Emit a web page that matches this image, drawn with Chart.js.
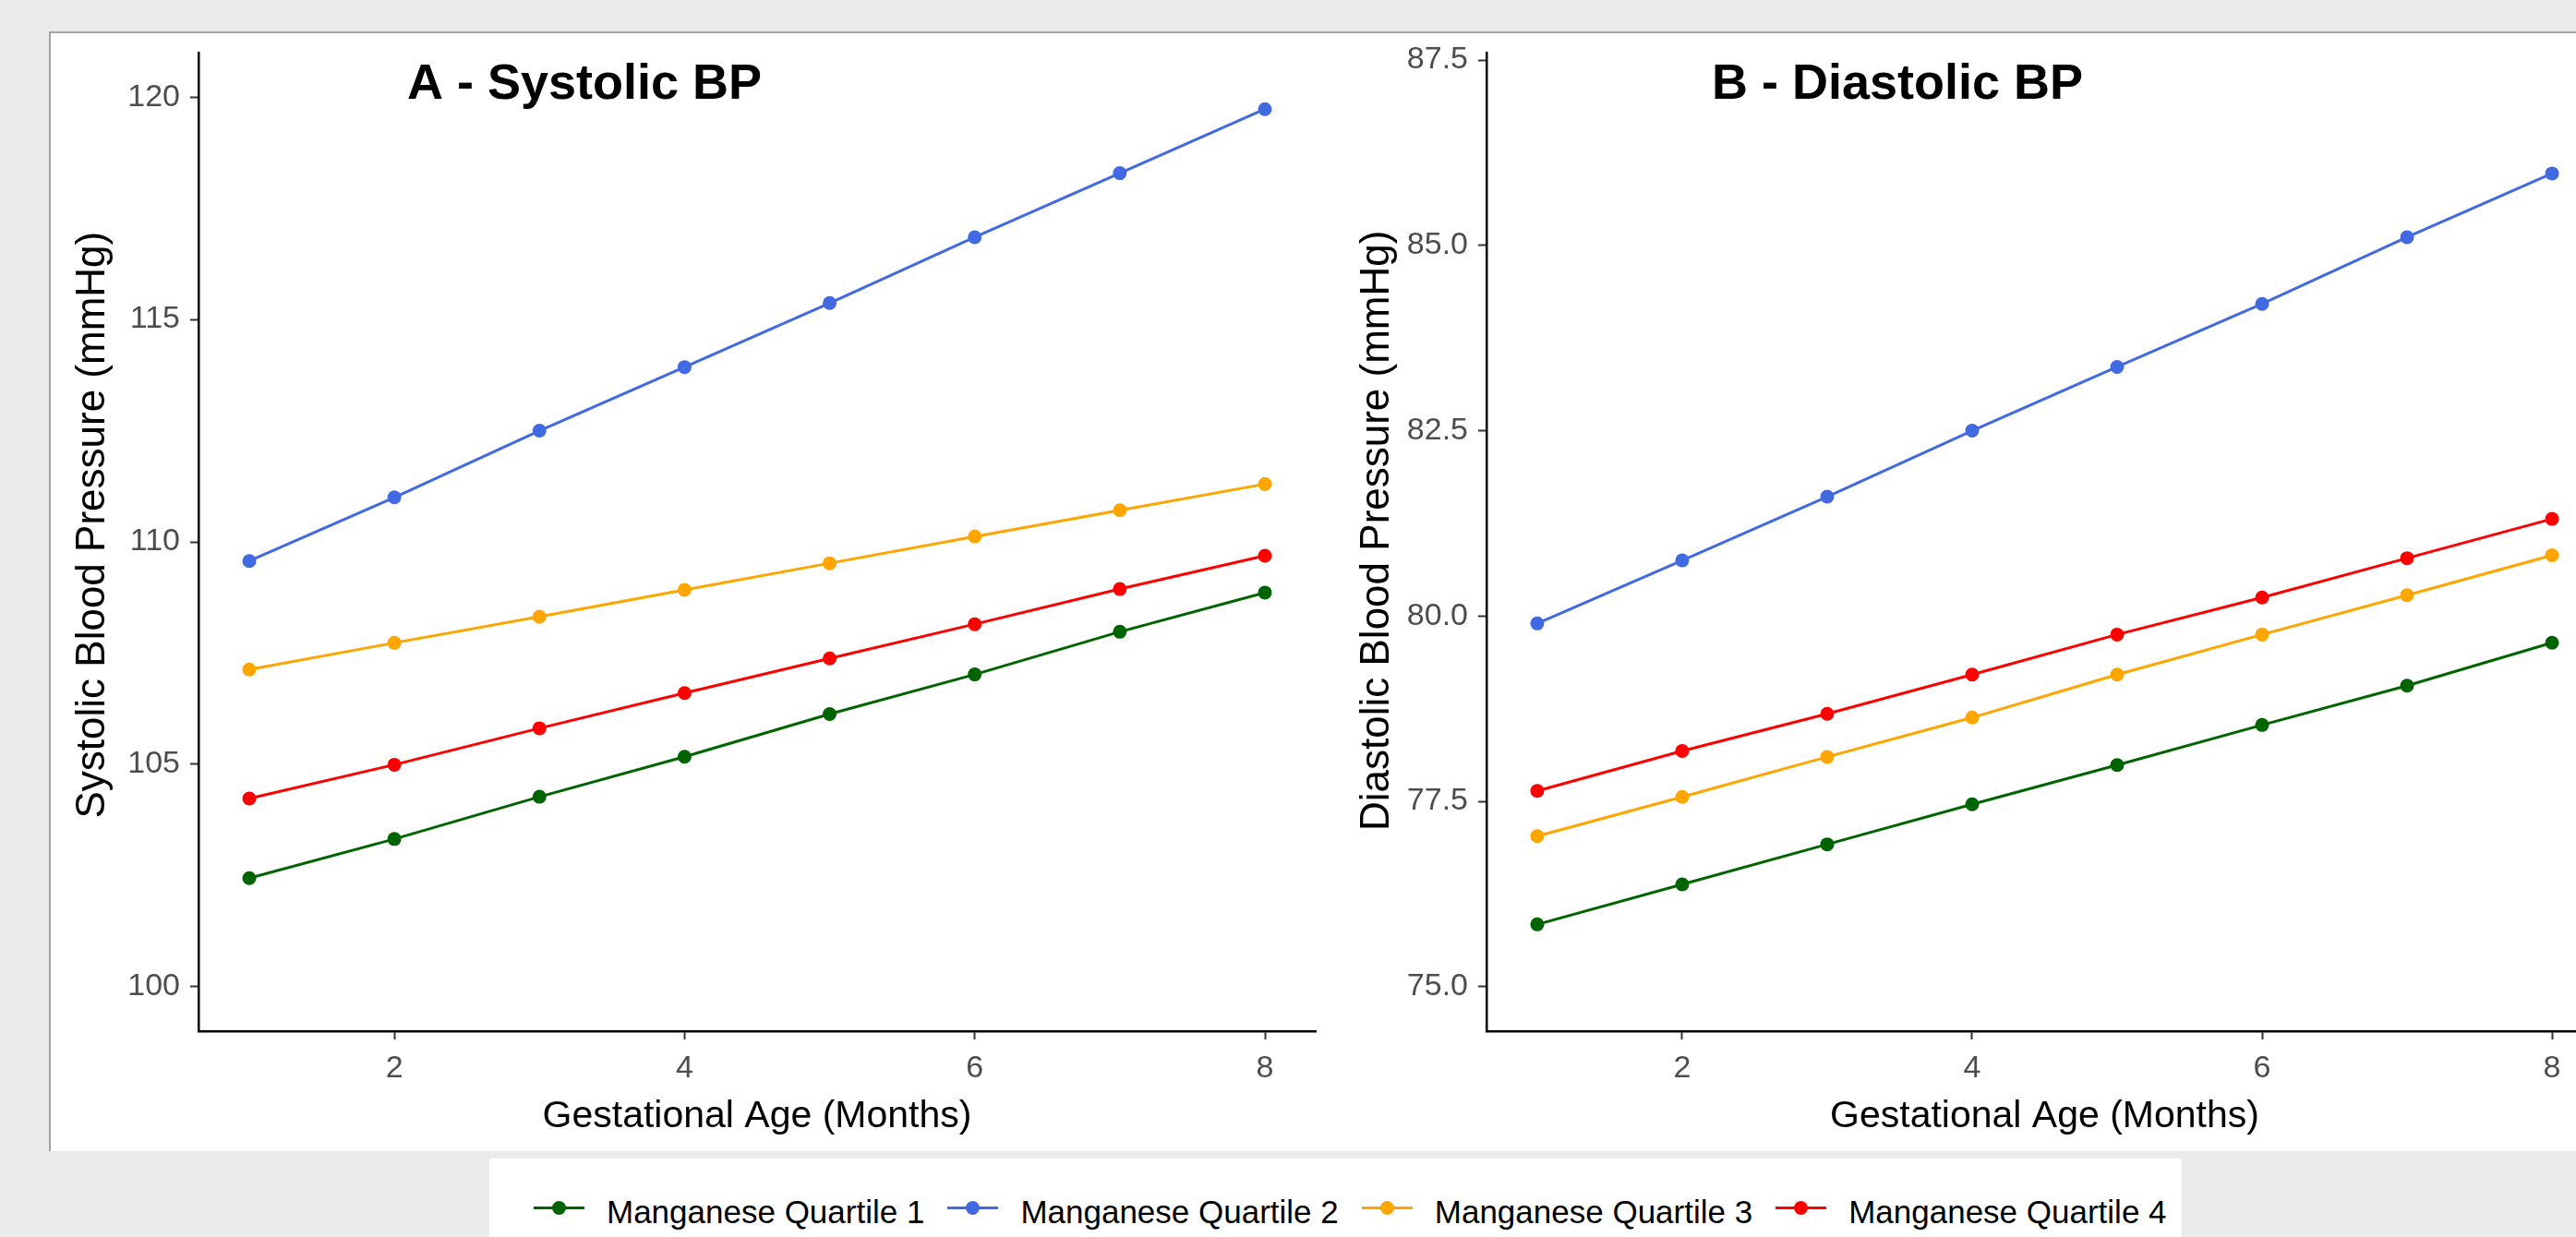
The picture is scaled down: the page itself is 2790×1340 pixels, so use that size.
<!DOCTYPE html>
<html>
<head>
<meta charset="utf-8">
<script src="https://cdn.jsdelivr.net/npm/chart.js@4.4.1/dist/chart.umd.min.js"></script>
<style>
  body { margin: 0; width: 2790px; height: 1340px; overflow: hidden; position: relative; background: #EBEBEB; font-family: "Liberation Sans", Arial, sans-serif; }
  #panel { position: absolute; left: 53px; top: 34px; width: 2800px; height: 1213px; background: #fff; border-left: 2px solid #a3a3a3; border-top: 2px solid #a3a3a3; box-sizing: border-box; }
  canvas { position: absolute; top: 36px; }
  #chartA { left: 55px; }
  #chartB { left: 1440px; }
  #legend { position: absolute; left: 530px; top: 1255px; width: 1833px; height: 85px; background: #fff; }
  #legendRow { position: absolute; left: 48px; top: 38px; height: 40px; display: flex; align-items: center; font-size: 35px; line-height: 40px; color: #000; white-space: nowrap; }
  .item { display: flex; align-items: center; margin-right: 25px; }
  .key { position: relative; width: 55px; height: 40px; margin-right: 24px; margin-top: -8px; }
  .key .ln { position: absolute; left: 0; right: 0; top: 18px; height: 3px; }
  .key .pt { position: absolute; left: 20px; top: 12px; width: 15px; height: 15px; border-radius: 50%; }
</style>
</head>
<body>
<div id="panel"></div>
<canvas id="chartA" width="1385" height="1211"></canvas>
<canvas id="chartB" width="1394" height="1211"></canvas>
<div id="legend"><div id="legendRow"></div></div>

<script>
// months and series
const months = [1, 2, 3, 4, 5, 6, 7, 8];
const seriesNames = ['Manganese Quartile 1', 'Manganese Quartile 2', 'Manganese Quartile 3', 'Manganese Quartile 4'];
const seriesColors = ['#006400', '#4169E1', '#FFA500', '#FF0000'];

const sbpQ1 = [102.44, 103.32, 104.27, 105.17, 106.13, 107.02, 107.98, 108.86];
const sbpQ2 = [109.57, 111.00, 112.50, 113.93, 115.37, 116.85, 118.29, 119.73];
const sbpQ3 = [107.13, 107.73, 108.32, 108.92, 109.52, 110.12, 110.71, 111.30];
const sbpQ4 = [104.23, 104.99, 105.81, 106.60, 107.38, 108.15, 108.94, 109.69];

const dbpQ1 = [75.84, 76.38, 76.92, 77.46, 77.99, 78.53, 79.06, 79.64];
const dbpQ2 = [79.90, 80.75, 81.61, 82.50, 83.36, 84.21, 85.11, 85.97];
const dbpQ3 = [77.03, 77.56, 78.10, 78.63, 79.21, 79.75, 80.28, 80.82];
const dbpQ4 = [77.64, 78.18, 78.68, 79.21, 79.75, 80.25, 80.78, 81.31];

const xTicks = [2, 4, 6, 8];
const sbpTicks = [100, 105, 110, 115, 120];
const dbpTicks = [75.0, 77.5, 80.0, 82.5, 85.0, 87.5];

Chart.defaults.font.family = "'Liberation Sans', Arial, sans-serif";

// draws the bold panel title inside the plot area
const panelTitle = {
  id: 'panelTitle',
  afterDraw(chart, args, opts) {
    const ctx = chart.ctx;
    ctx.save();
    ctx.font = 'bold 54px "Liberation Sans", Arial, sans-serif';
    ctx.fillStyle = '#000';
    ctx.textBaseline = 'alphabetic';
    ctx.fillText(opts.text, opts.x, opts.y);
    ctx.restore();
  }
};

function makeDatasets(list) {
  return list.map((vals, i) => ({
    label: seriesNames[i],
    data: months.map((m, j) => ({ x: m, y: vals[j] })),
    borderColor: seriesColors[i],
    backgroundColor: seriesColors[i],
    borderWidth: 3,
    pointRadius: 7.5,
    pointBorderWidth: 0,
    pointBackgroundColor: seriesColors[i]
  }));
}

function makeChart(id, cfg) {
  const tickCol = '#333333';
  return new Chart(document.getElementById(id), {
    type: 'line',
    data: { datasets: makeDatasets(cfg.series) },
    options: {
      responsive: false,
      animation: false,
      layout: { padding: { top: 21, right: 15, left: 0, bottom: 0 } },
      plugins: {
        legend: { display: false },
        tooltip: { enabled: false },
        panelTitle: { text: cfg.title, x: cfg.titleX, y: 71 }
      },
      scales: {
        x: {
          type: 'linear',
          min: 0.65, max: 8.35,
          afterBuildTicks: s => { s.ticks = xTicks.map(v => ({ value: v })); },
          afterFit: s => { s.height = 130; s.paddingLeft = 0; s.paddingRight = 0; },
          grid: { drawOnChartArea: false, drawTicks: true, tickLength: 9, tickWidth: 2, tickColor: tickCol },
          border: { display: true, color: '#000', width: 2.5 },
          ticks: { color: '#4D4D4D', font: { size: 34 }, padding: 11, maxRotation: 0 },
          title: { display: true, text: 'Gestational Age (Months)', color: '#000', font: { size: 41 }, padding: { top: 0, bottom: 13 } }
        },
        y: {
          min: cfg.yMin, max: cfg.yMax,
          afterBuildTicks: s => { s.ticks = cfg.yTicks.map(v => ({ value: v })); },
          afterFit: s => { s.width = cfg.yWidth; s.paddingTop = 0; s.paddingBottom = 0; },
          grid: { drawOnChartArea: false, drawTicks: true, tickLength: 9, tickWidth: 2, tickColor: tickCol },
          border: { display: true, color: '#000', width: 2.5 },
          ticks: { color: '#4D4D4D', font: { size: 34 }, padding: 11, callback: cfg.fmt },
          title: { display: true, text: cfg.yTitle, color: '#000', font: { size: 44 }, padding: { top: cfg.yTitlePad, bottom: 0 } }
        }
      }
    },
    plugins: [panelTitle]
  });
}

makeChart('chartA', {
  series: [sbpQ1, sbpQ2, sbpQ3, sbpQ4],
  title: 'A - Systolic BP', titleX: 386,
  yMin: 99, yMax: 121, yTicks: sbpTicks, yWidth: 160, yTitlePad: 19,
  yTitle: '   Systolic Blood Pressure (mmHg)',
  fmt: v => String(v)
});

makeChart('chartB', {
  series: [dbpQ1, dbpQ2, dbpQ3, dbpQ4],
  title: 'B - Diastolic BP', titleX: 414,
  yMin: 74.4, yMax: 87.6, yTicks: dbpTicks, yWidth: 170, yTitlePad: 25,
  yTitle: '  Diastolic Blood Pressure (mmHg)',
  fmt: v => v.toFixed(1)
});

// legend below both panels
const row = document.getElementById('legendRow');
seriesNames.forEach((name, i) => {
  const item = document.createElement('div');
  item.className = 'item';
  item.innerHTML = '<span class="key"><span class="ln" style="background:' + seriesColors[i] + '"></span>' +
    '<span class="pt" style="background:' + seriesColors[i] + '"></span></span><span>' + name + '</span>';
  row.appendChild(item);
});
</script>
</body>
</html>
